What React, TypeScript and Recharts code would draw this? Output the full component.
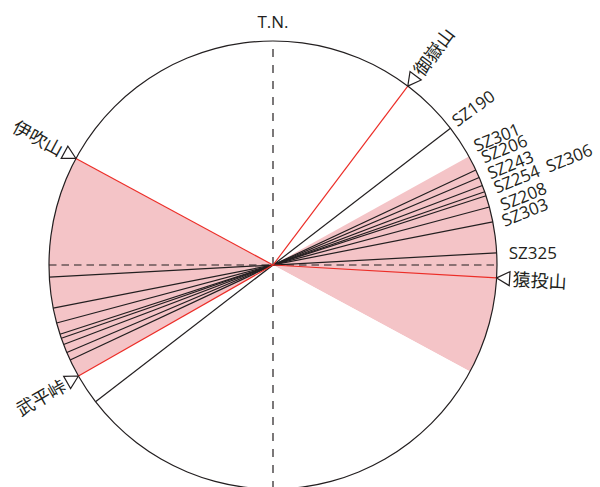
import React from 'react';
import {
  PieChart,
  Pie,
  Cell,
  ScatterChart,
  Scatter,
  XAxis,
  YAxis,
  ReferenceLine,
} from 'recharts';

// bearings in degrees from true north, clockwise
const siteNames = ['SZ190', 'SZ301', 'SZ206', 'SZ243', 'SZ254', 'SZ306', 'SZ208', 'SZ303', 'SZ325'];
const siteBearings = [52.4, 64.9, 67.0, 69.2, 70.9, 72.0, 75.0, 78.9, 86.9];

const landmarkNames = ['御嶽山', '猿投山', '武平峠', '伊吹山'];
const landmarkBearings = [37.0, 93.3, 240.3, 298.4];

// shaded sectors (from -> to)
const sectorFrom = [61.0, 240.3];
const sectorTo = [118.4, 298.4];

// where each site label sits, relative to the outer end of its line
const siteLabelStyle: Record<string, { dx: number; dy: number; rot: number }> = {
  SZ190: { dx: 7, dy: -1, rot: -36 },
  SZ301: { dx: 1, dy: -18, rot: -22 },
  SZ206: { dx: 5, dy: -14, rot: -22 },
  SZ243: { dx: 8, dy: -6, rot: -22 },
  SZ254: { dx: 12, dy: 2, rot: -22 },
  SZ306: { dx: 63, dy: -23, rot: -22 },
  SZ208: { dx: 14, dy: 4, rot: -22 },
  SZ303: { dx: 12, dy: 5, rot: -22 },
  SZ325: { dx: 12, dy: 6, rot: 0 },
};

const W = 600;
const H = 490;
const CX = 273;
const CY = 265;
const R = 224;
const INK = '#231f20';
const RED = '#ec2d27';
const PINK = '#f4c4c7';
const FONT = "'Open Sans', 'Noto Sans CJK JP', sans-serif";

const rad = (d: number) => (d * Math.PI) / 180;

const sectorSlices = (() => {
  const out: { value: number; shaded: boolean }[] = [];
  let prev = 0;
  sectorFrom.forEach((from, i) => {
    out.push({ value: from - prev, shaded: false });
    out.push({ value: sectorTo[i] - from, shaded: true });
    prev = sectorTo[i];
  });
  out.push({ value: 360 - prev, shaded: false });
  return out;
})();

const siteLines = siteNames.map((name, i) => {
  const b = rad(siteBearings[i]);
  return [
    { x: Math.sin(b), y: Math.cos(b), name, tip: true },
    { x: -Math.sin(b), y: -Math.cos(b), name, tip: false },
  ];
});

const landmarkLines = landmarkNames.map((name, i) => {
  const b = rad(landmarkBearings[i]);
  return [
    { x: 0, y: 0, name, bearing: landmarkBearings[i], tip: false },
    { x: Math.sin(b), y: Math.cos(b), name, bearing: landmarkBearings[i], tip: true },
  ];
});

function SiteTip(props: any) {
  const { cx, cy, payload } = props;
  if (!payload || !payload.tip) return <g />;
  const s = siteLabelStyle[payload.name];
  const x = cx + s.dx;
  const y = cy + s.dy;
  return (
    <text
      x={x}
      y={y}
      transform={`rotate(${s.rot} ${x} ${y})`}
      fontSize={17}
      fill={INK}
      fontFamily={FONT}
    >
      {payload.name}
    </text>
  );
}

function LandmarkTip(props: any) {
  const { cx, cy, payload } = props;
  if (!payload || !payload.tip) return <g />;
  const b = rad(payload.bearing);
  const ux = Math.sin(b);
  const uy = -Math.cos(b);
  const px = -uy;
  const py = ux;
  const len = 13;
  const half = 7;
  const bx = cx + ux * len;
  const by = cy + uy * len;
  const pts = `${cx},${cy} ${bx + px * half},${by + py * half} ${bx - px * half},${by - py * half}`;
  const tx = cx + ux * (len + 3);
  const ty = cy + uy * (len + 3);
  const right = payload.bearing < 180;
  const ang = right
    ? (Math.atan2(uy, ux) * 180) / Math.PI
    : (Math.atan2(-uy, -ux) * 180) / Math.PI;
  return (
    <g>
      <polygon points={pts} fill="#fff" stroke={INK} strokeWidth={1.2} />
      <text
        x={tx}
        y={ty}
        textAnchor={right ? 'start' : 'end'}
        dominantBaseline="central"
        transform={`rotate(${ang} ${tx} ${ty})`}
        fontSize={18}
        fill={INK}
        fontFamily={FONT}
      >
        {payload.name}
      </text>
    </g>
  );
}

export default function App() {
  return (
    <div style={{ position: 'absolute', left: 0, top: 0, width: W, height: 487, overflow: 'hidden', background: '#fff' }}>
      <div style={{ position: 'absolute', left: 0, top: 0 }}>
        <PieChart width={W} height={H} margin={{ top: 0, right: 0, bottom: 0, left: 0 }}>
          <Pie
            data={sectorSlices}
            dataKey="value"
            cx={CX}
            cy={CY}
            innerRadius={0}
            outerRadius={R}
            startAngle={90}
            endAngle={-270}
            stroke="none"
            isAnimationActive={false}
          >
            {sectorSlices.map((s, i) => (
              <Cell key={i} fill={s.shaded ? PINK : '#ffffff'} stroke="none" />
            ))}
          </Pie>
          <Pie
            data={[{ value: 1 }]}
            dataKey="value"
            cx={CX}
            cy={CY}
            innerRadius={R - 0.6}
            outerRadius={R + 0.6}
            startAngle={90}
            endAngle={-270}
            fill={INK}
            stroke="none"
            isAnimationActive={false}
          />
        </PieChart>
      </div>
      <div style={{ position: 'absolute', left: 0, top: 0 }}>
        <ScatterChart width={W} height={H} margin={{ top: CY - R, right: W - CX - R, bottom: H - CY - R, left: CX - R }}>
          <XAxis type="number" dataKey="x" domain={[-1, 1]} hide />
          <YAxis type="number" dataKey="y" domain={[-1, 1]} hide />
          <ReferenceLine
            x={0}
            stroke={INK}
            strokeWidth={1.2}
            strokeDasharray="8 8"
            label={{ value: 'T.N.', position: 'top', offset: 13, fill: INK, fontSize: 17, fontFamily: FONT }}
          />
          <ReferenceLine y={0} stroke={INK} strokeWidth={1.2} strokeDasharray="7.5 5" />
          {siteLines.map((d, i) => (
            <Scatter
              key={siteNames[i]}
              data={d}
              fill={INK}
              line={{ stroke: INK, strokeWidth: 1.2 }}
              shape={SiteTip}
              isAnimationActive={false}
            />
          ))}
          {landmarkLines.map((d, i) => (
            <Scatter
              key={landmarkNames[i]}
              data={d}
              fill={RED}
              line={{ stroke: RED, strokeWidth: 1.2 }}
              shape={LandmarkTip}
              isAnimationActive={false}
            />
          ))}
        </ScatterChart>
      </div>
    </div>
  );
}
